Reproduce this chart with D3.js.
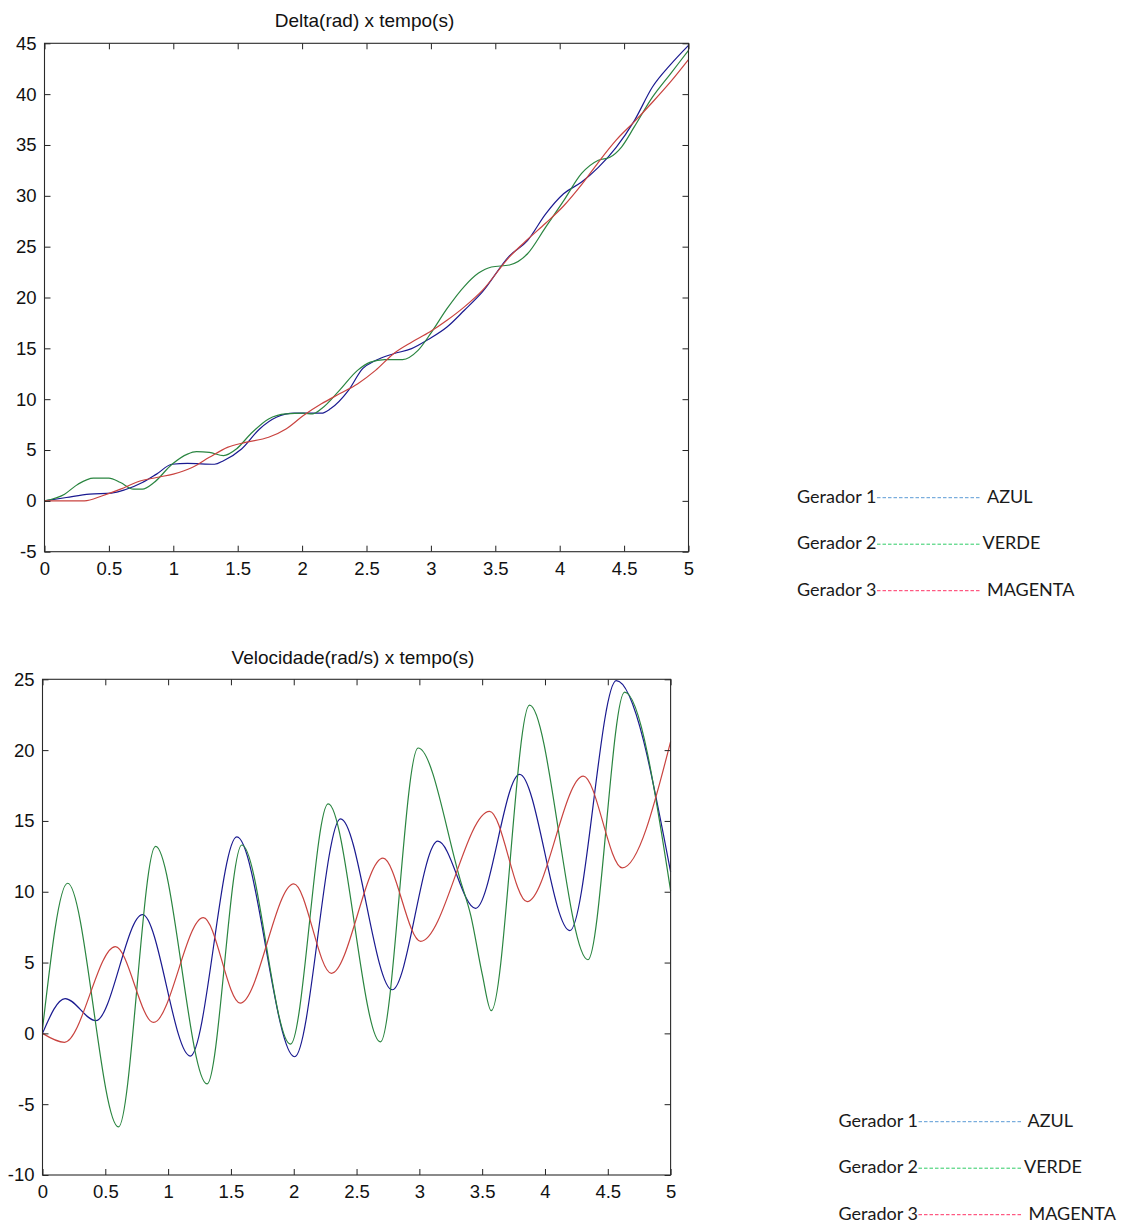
<!DOCTYPE html>
<html>
<head>
<meta charset="utf-8">
<script src="https://cdn.jsdelivr.net/npm/d3@7"></script>
<style>
  html, body { margin: 0; padding: 0; background: #ffffff; }
  svg { display: block; }
  .tick text { font-family: "Liberation Sans", Arial, Helvetica, sans-serif; font-size: 18.5px; fill: #111; }
  .titulo { font-family: "Liberation Sans", Arial, Helvetica, sans-serif; font-size: 19px; fill: #111; }
  .legenda { font-family: Lato, "Open Sans", sans-serif; font-size: 18px; fill: #1a1a1a; }
</style>
</head>
<body>
<script>
// ---- Eixos ----
const xTicks = [0, 0.5, 1, 1.5, 2, 2.5, 3, 3.5, 4, 4.5, 5];
const deltaTicks = [-5, 0, 5, 10, 15, 20, 25, 30, 35, 40, 45];
const velTicks = [-10, -5, 0, 5, 10, 15, 20, 25];

// ---- Delta (rad) ----
const deltaT_g1 = [0, 0.17, 0.35, 0.52, 0.625, 0.76, 0.87, 0.99, 1.11, 1.32, 1.39, 1.53, 1.67, 1.8, 1.94, 2.15, 2.22, 2.36, 2.47, 2.57, 2.71, 2.85, 2.99, 3.125, 3.26, 3.4, 3.61, 3.75, 3.89, 4.03, 4.17, 4.3, 4.44, 4.58, 4.72, 4.86, 5.0];
const delta_g1  = [0, 0.33, 0.66, 0.76, 1.09, 1.8, 2.63, 3.6, 3.68, 3.6, 3.95, 5.1, 7.07, 8.22, 8.62, 8.62, 9.05, 10.86, 13.0, 13.8, 14.47, 14.97, 15.95, 17.1, 18.75, 20.56, 24.1, 25.6, 28.2, 30.2, 31.35, 32.8, 34.8, 37.4, 40.7, 42.9, 44.8];

const deltaT_g2 = [0, 0.156, 0.26, 0.38, 0.5, 0.59, 0.69, 0.76, 0.85, 0.99, 1.11, 1.18, 1.28, 1.39, 1.49, 1.6, 1.74, 1.875, 2.01, 2.08, 2.15, 2.29, 2.43, 2.53, 2.64, 2.78, 2.9, 3.0, 3.125, 3.26, 3.37, 3.47, 3.61, 3.75, 3.89, 4.03, 4.17, 4.3, 4.39, 4.48, 4.58, 4.72, 4.86, 5.0];
const delta_g2  = [0, 0.66, 1.64, 2.24, 2.24, 1.8, 1.15, 1.15, 1.8, 3.6, 4.6, 4.84, 4.77, 4.44, 5.1, 6.58, 8.06, 8.55, 8.62, 8.55, 9.05, 10.86, 12.83, 13.65, 13.9, 13.9, 14.8, 16.5, 18.9, 21.1, 22.4, 23.0, 23.2, 24.3, 26.9, 29.5, 32.2, 33.5, 33.8, 34.8, 36.8, 39.7, 42.0, 44.3];

const deltaT_g3 = [0, 0.31, 0.45, 0.59, 0.73, 0.87, 1.0, 1.15, 1.28, 1.42, 1.56, 1.74, 1.875, 2.01, 2.15, 2.29, 2.43, 2.57, 2.71, 2.85, 2.99, 3.125, 3.26, 3.4, 3.61, 3.75, 3.89, 4.03, 4.17, 4.3, 4.44, 4.58, 4.72, 4.86, 5.0];
const delta_g3  = [0, 0, 0.5, 1.15, 1.9, 2.3, 2.63, 3.3, 4.28, 5.26, 5.75, 6.25, 7.07, 8.39, 9.54, 10.53, 11.5, 12.83, 14.47, 15.6, 16.6, 17.76, 19.08, 20.7, 24.0, 25.7, 27.3, 29.0, 31.1, 33.3, 35.5, 37.3, 39.2, 41.2, 43.4];

// ---- Velocidade (rad/s) ----
const velT_g1 = [0, 0.18, 0.425, 0.796, 1.176, 1.547, 2.007, 2.373, 2.784, 3.147, 3.447, 3.798, 4.198, 4.568, 5.0];
const vel_g1  = [0, 2.46, 0.9, 8.38, -1.6, 13.87, -1.65, 15.15, 3.08, 13.57, 8.83, 18.29, 7.26, 24.9, 11.4];

const velT_g2 = [0, 0.2, 0.605, 0.9, 1.31, 1.587, 1.974, 2.274, 2.69, 2.99, 3.33, 3.41, 3.5, 3.572, 3.877, 4.342, 4.634, 5.0];
const vel_g2  = [0.3, 10.6, -6.6, 13.2, -3.57, 13.3, -0.76, 16.2, -0.6, 20.15, 10.7, 8.3, 4.2, 1.6, 23.17, 5.2, 24.1, 10.08];

const velT_g3 = [0, 0.175, 0.58, 0.884, 1.28, 1.574, 2.0, 2.3, 2.71, 3.01, 3.559, 3.858, 4.305, 4.615, 5.0];
const vel_g3  = [0, -0.63, 6.13, 0.77, 8.17, 2.14, 10.55, 4.24, 12.37, 6.5, 15.67, 9.3, 18.17, 11.69, 20.6];

// ---- Legenda ----
const geradores = ["Gerador 1", "Gerador 2", "Gerador 3"];
const nomesCores = ["AZUL", "VERDE", "MAGENTA"];

const corLinha = ["#1a1a90", "#2a8540", "#c9433f"];
const corTraco = ["#5b9bd5", "#2ecc66", "#ff3366"];

const svg = d3.select("body").append("svg")
  .attr("width", 1122).attr("height", 1228);

function desenhaPainel(cfg) {
  const x = d3.scaleLinear().domain([0, 5]).range([cfg.x0, cfg.x1]);
  const y = d3.scaleLinear().domain([cfg.yTicks[0], cfg.yTicks[cfg.yTicks.length - 1]]).range([cfg.y1, cfg.y0]);
  const g = svg.append("g");
  const fmt = d => String(d);

  // curves
  const line = d3.line().x(d => x(d[0])).y(d => y(d[1])).curve(d3.curveMonotoneX);
  cfg.series.forEach((s, i) => {
    g.append("path")
      .datum(d3.zip(s.t, s.v))
      .attr("fill", "none")
      .attr("stroke", corLinha[i])
      .attr("stroke-width", 1.2)
      .attr("stroke-linejoin", "round")
      .attr("d", line);
  });

  // axes with inward ticks on all four sides
  const tidy = sel => sel.select(".domain").remove();
  g.append("g").attr("transform", `translate(0,${cfg.y1})`)
    .call(d3.axisBottom(x).tickValues(xTicks).tickFormat(fmt).tickSizeInner(-6).tickSizeOuter(0).tickPadding(10))
    .call(tidy);
  g.append("g").attr("transform", `translate(0,${cfg.y0})`)
    .call(d3.axisTop(x).tickValues(xTicks).tickFormat("").tickSizeInner(-6).tickSizeOuter(0))
    .call(tidy);
  g.append("g").attr("transform", `translate(${cfg.x0},0)`)
    .call(d3.axisLeft(y).tickValues(cfg.yTicks).tickFormat(fmt).tickSizeInner(-6).tickSizeOuter(0).tickPadding(8))
    .call(tidy);
  g.append("g").attr("transform", `translate(${cfg.x1},0)`)
    .call(d3.axisRight(y).tickValues(cfg.yTicks).tickFormat("").tickSizeInner(-6).tickSizeOuter(0))
    .call(tidy);
  g.selectAll(".tick line").attr("stroke", "#222").attr("stroke-width", 1);
  g.selectAll(".tick text").attr("font-family", null).attr("font-size", null);

  // frame
  g.append("rect")
    .attr("x", cfg.x0).attr("y", cfg.y0)
    .attr("width", cfg.x1 - cfg.x0).attr("height", cfg.y1 - cfg.y0)
    .attr("fill", "none").attr("stroke", "#2a2a2a").attr("stroke-width", 1.1);

  g.append("text").attr("class", "titulo")
    .attr("x", cfg.titleX).attr("y", cfg.titleY)
    .attr("text-anchor", "middle")
    .text(cfg.title);
}

function desenhaLegenda(x0, y0, labelDx) {
  const g = svg.append("g");
  geradores.forEach((nome, i) => {
    const yb = y0 + i * 46.5;
    g.append("text").attr("class", "legenda").attr("x", x0).attr("y", yb).text(nome);
    g.append("line")
      .attr("x1", x0 + 80).attr("x2", x0 + 184)
      .attr("y1", yb - 5).attr("y2", yb - 5)
      .attr("stroke", corTraco[i]).attr("stroke-width", 1)
      .attr("stroke-dasharray", "3.5,2");
    g.append("text").attr("class", "legenda").attr("x", x0 + labelDx[i]).attr("y", yb).text(nomesCores[i]);
  });
}

desenhaPainel({
  x0: 44.5, x1: 688.5, y0: 43.3, y1: 551.7,
  yTicks: deltaTicks,
  title: "Delta(rad) x tempo(s)", titleX: 364.5, titleY: 27,
  series: [
    { t: deltaT_g1, v: delta_g1 },
    { t: deltaT_g2, v: delta_g2 },
    { t: deltaT_g3, v: delta_g3 }
  ]
});

desenhaPainel({
  x0: 42.5, x1: 670.6, y0: 679.3, y1: 1175,
  yTicks: velTicks,
  title: "Velocidade(rad/s) x tempo(s)", titleX: 353, titleY: 664,
  series: [
    { t: velT_g1, v: vel_g1 },
    { t: velT_g2, v: vel_g2 },
    { t: velT_g3, v: vel_g3 }
  ]
});

desenhaLegenda(797, 502.7, [190, 185.5, 190]);
desenhaLegenda(838.5, 1126.7, [189, 185.5, 190]);
</script>
</body>
</html>
